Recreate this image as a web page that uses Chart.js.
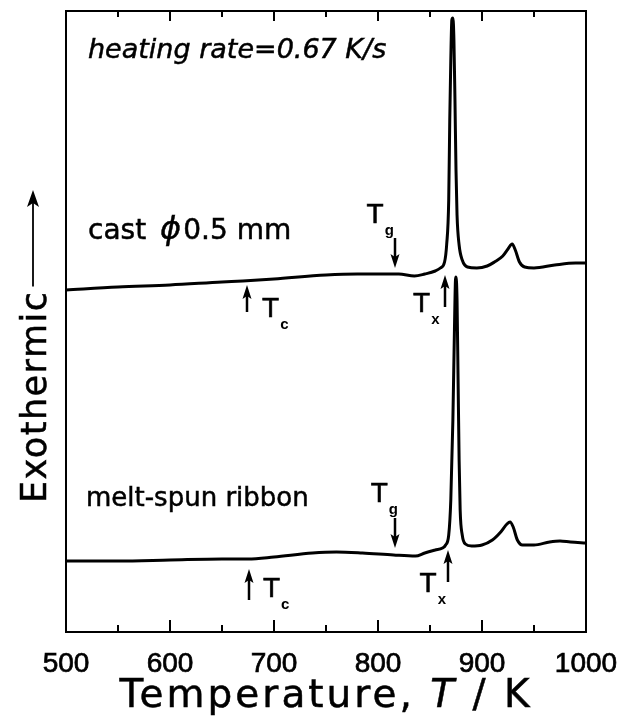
<!DOCTYPE html>
<html><head><meta charset="utf-8">
<script src="https://cdn.jsdelivr.net/npm/chart.js@4"></script>
<style>html,body{margin:0;padding:0;background:#fff}</style>
</head><body>
<canvas id="c" width="634" height="721"></canvas>
<script>
// ---- data (temperature in K, signal in arbitrary units) ----
const castT = [500,550,600,650,670,700,750,780,800,820,835,845,855,860,864,866,868,869,870,871,872,873,874,875,876,878,881,886,895,905,912,920,925,929,932,936,941,950,970,990,1000];
const castY = [34.2,34.5,34.7,35.0,35.1,35.3,35.7,35.8,35.8,35.8,35.6,35.8,36.1,36.4,37.0,38.7,43.2,51.2,57.2,61.2,61.4,59.2,53.2,46.2,41.7,38.7,37.2,36.5,36.4,36.6,37.0,37.6,38.3,38.8,38.2,37.0,36.5,36.4,36.7,36.9,36.9];
const ribbonT = [500,550,600,650,675,700,737,760,785,815,836,845,855,862,865,868,870,872,873.5,874.5,875,876,877,878,879,881,884,890,900,910,918,924,927,930,934,939,950,965,975,985,1000];
const ribbonY = [7.1,7.1,7.2,7.3,7.3,7.5,7.9,8.0,7.9,7.7,7.6,7.9,8.2,8.4,8.7,9.7,13.2,21.2,30.2,35.2,35.5,33.2,25.2,17.2,12.2,9.7,8.8,8.6,8.7,9.2,10.0,10.8,11.0,10.5,9.2,8.7,8.7,9.0,9.1,9.0,8.9];
const majorTicks = [500,600,700,800,900,1000];
const minorTicks = [550,650,750,850,950];
// characteristic temperature markers: T, tail value, tip value
const markerT    = [674, 816, 864, 676, 816, 867];
const markerFrom = [32.0, 39.4, 32.5, 3.2, 11.4, 5.0];
const markerTo   = [34.7, 36.4, 35.7, 6.3, 8.4, 8.2];
// marker labels: T, value, subscript
const labelT   = [688.5, 789, 833.7, 689.4, 793, 840];
const labelY   = [31.5, 40.9, 32.0, 3.5, 13.0, 4.0];
const labelSub = ['c','g','x','c','g','x'];

const pts = (xs, ys) => xs.map((x,i)=>({x, y: ys[i]}));

const TXT = '"DejaVu Sans", sans-serif';
const LIB = '"Liberation Sans", Arial, sans-serif';

const deco = {
  id: 'deco',
  afterDraw(chart) {
    const ctx = chart.ctx, a = chart.chartArea;
    const xs = chart.scales.x, ys = chart.scales.y;
    ctx.save();
    ctx.strokeStyle = '#000'; ctx.fillStyle = '#000';
    const txt = (s, x, y, sw) => { ctx.fillText(s, x, y); ctx.lineWidth = sw; ctx.strokeText(s, x, y); };
    // frame
    ctx.lineWidth = 2;
    ctx.strokeRect(a.left, a.top, a.right - a.left, a.bottom - a.top);
    // ticks
    const tick = (v, lb, lt) => {
      const px = Math.round(xs.getPixelForValue(v));
      ctx.beginPath();
      ctx.moveTo(px, a.bottom); ctx.lineTo(px, a.bottom - lb);
      ctx.moveTo(px, a.top); ctx.lineTo(px, a.top + lt);
      ctx.stroke();
    };
    ctx.lineWidth = 2;
    majorTicks.forEach(v => tick(v, 12, 10));
    minorTicks.forEach(v => tick(v, 7, 6));
    // arrows
    const arrow = (x, y0, y1) => {
      const dir = Math.sign(y1 - y0);
      ctx.lineWidth = 2.5;
      ctx.beginPath(); ctx.moveTo(x, y0); ctx.lineTo(x, y1 - dir*10); ctx.stroke();
      ctx.beginPath();
      ctx.moveTo(x, y1); ctx.lineTo(x - 4.5, y1 - dir*14); ctx.lineTo(x, y1 - dir*11); ctx.lineTo(x + 4.5, y1 - dir*14);
      ctx.closePath(); ctx.fill();
    };
    markerT.forEach((t,i) => arrow(Math.round(xs.getPixelForValue(t)), ys.getPixelForValue(markerFrom[i]), ys.getPixelForValue(markerTo[i])));
    // marker labels
    ctx.textBaseline = 'alphabetic'; ctx.textAlign = 'left';
    labelT.forEach((t,i) => {
      const x = xs.getPixelForValue(t), y = ys.getPixelForValue(labelY[i]);
      ctx.font = '28px ' + LIB;
      txt('T', x, y, 0.6);
      const w = ctx.measureText('T').width;
      ctx.font = 'bold 15px ' + LIB;
      ctx.fillText(labelSub[i], x + w + 1, y + 12);
    });
    // texts
    ctx.font = 'italic 27px ' + TXT;
    txt('heating rate=0.67 K/s', a.left + 22, a.top + 47, 0.5);
    let x0 = a.left + 22, yb = 239;
    ctx.font = '28px ' + TXT;
    txt('cast', x0, yb, 0.5); x0 += ctx.measureText('cast').width + 14;
    ctx.font = 'italic 32px ' + TXT;
    txt('\u03D5', x0, yb, 0.5); x0 += ctx.measureText('\u03D5').width + 2;
    ctx.font = '28px ' + TXT;
    txt('0.5 mm', x0, yb, 0.5);
    ctx.font = '26px ' + TXT;
    txt('melt-spun ribbon', a.left + 20, 506, 0.5);
    // x title
    const F = '39px ' + TXT, FI = 'italic 39px ' + TXT;
    ctx.letterSpacing = '3px';
    ctx.font = F;
    const p1 = 'Temperature, ', p3 = '/ K';
    const w1 = ctx.measureText(p1).width, w3 = ctx.measureText(p3).width;
    ctx.font = FI;
    const w2 = ctx.measureText('T ').width;
    let xt = (a.left + a.right)/2 - (w1 + w2 + w3)/2, yt = 707;
    ctx.font = F; txt(p1, xt, yt, 0.5);
    ctx.font = FI; txt('T', xt + w1, yt, 0.5);
    ctx.font = F; txt(p3, xt + w1 + w2, yt, 0.5);
    // y title with arrow
    ctx.save();
    ctx.translate(46, 503); ctx.rotate(-Math.PI/2);
    ctx.font = '35px ' + TXT;
    ctx.letterSpacing = '1.5px';
    txt('Exothermic', 0, 0, 0.5);
    const wy = ctx.measureText('Exothermic').width;
    ctx.lineWidth = 1.8;
    ctx.beginPath(); ctx.moveTo(wy + 4, -13); ctx.lineTo(312 - 10, -13); ctx.stroke();
    ctx.beginPath(); ctx.moveTo(313, -13); ctx.lineTo(313 - 17, -19); ctx.lineTo(313 - 13, -13); ctx.lineTo(313 - 17, -7); ctx.closePath(); ctx.fill();
    ctx.restore();
    ctx.restore();
  }
};

new Chart(document.getElementById('c'), {
  type: 'line',
  data: { datasets: [
    { label: 'cast \u03D50.5 mm', data: pts(castT, castY), borderColor: '#000', borderWidth: 3, pointRadius: 0, cubicInterpolationMode: 'monotone', fill: false },
    { label: 'melt-spun ribbon', data: pts(ribbonT, ribbonY), borderColor: '#000', borderWidth: 3, pointRadius: 0, cubicInterpolationMode: 'monotone', fill: false }
  ]},
  options: {
    responsive: false, animation: false, devicePixelRatio: 1,
    layout: { padding: { left: 66, right: 48, top: 11, bottom: 0 } },
    plugins: { legend: { display: false }, tooltip: { enabled: false } },
    scales: {
      x: { type: 'linear', min: 500, max: 1000,
        afterFit: s => { s.height = 89; },
        grid: { display: false }, border: { display: false },
        ticks: { stepSize: 100, color: '#000', padding: 7, maxRotation: 0,
          textStrokeColor: '#000', textStrokeWidth: 0.7,
          callback: v => String(v),
          font: { family: LIB, size: 28 } } },
      y: { display: false, min: 0, max: 62.1 }
    }
  },
  plugins: [deco]
});
</script>
</body></html>
